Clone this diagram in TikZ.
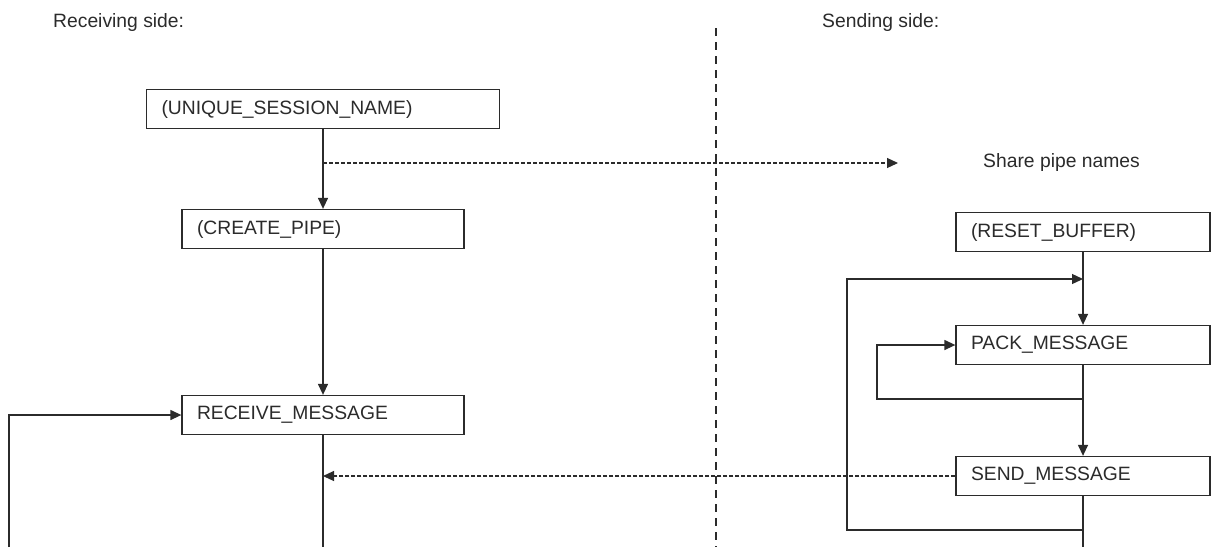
\documentclass[tikz,border=0pt]{standalone}
\usepackage{fontspec}
\setmainfont{Liberation Sans}
\usetikzlibrary{arrows.meta}
\definecolor{ink}{HTML}{2B2B2B}
\begin{document}
\begin{tikzpicture}[x=1pt,y=-1pt,
  every node/.style={font=\fontsize{19.3}{23}\selectfont, text=ink},
  box/.style={draw=ink, line width=1.3pt, rectangle, inner xsep=15pt, inner ysep=0pt, minimum height=39pt, align=left},
  line/.style={draw=ink, line width=1.3pt},
  arr/.style={line, -{Triangle[length=11pt,width=10pt]}},
  dasharr/.style={line, line width=1.1pt, dash pattern=on 4pt off 2pt, -{Triangle[length=11pt,width=10pt]}},
  divider/.style={draw=ink, line width=1.1pt, dash pattern=on 8pt off 6pt},
  label/.style={anchor=west, inner sep=0pt}]
\useasboundingbox (0,0) rectangle (1212,547);
\fill[white] (0,0) rectangle (1212,547);

% headings
\node[label] (recvside) at (53,23) {Receiving side:};
\node[label] (sendside) at (822,23) {Sending side:};

% divider
\coordinate (dtop) at (716,28);
\coordinate (dbot) at (716,547);
\draw[divider] (dtop) -- (dbot);

% receiving side boxes
\node[box, text width=323pt] (uniq) at (323,109) {(UNIQUE\_SESSION\_NAME)};
\node[box, text width=252pt] (create) at (323,229) {(CREATE\_PIPE)};
\node[box, text width=252pt] (recv) at (323,415) {RECEIVE\_MESSAGE};

% sending side boxes
\node[box, text width=224pt] (reset) at (1083,232) {(RESET\_BUFFER)};
\node[box, text width=224pt] (pack) at (1083,345) {PACK\_MESSAGE};
\node[box, text width=224pt] (send) at (1083,476) {SEND\_MESSAGE};

% share pipe names
\node[label] (share) at (983,163) {Share pipe names};
\coordinate (sp) at (323,163);
\coordinate (sharetip) at (898,163);

% receiving connectors
\draw[arr] (uniq) -- (create);
\draw[dasharr] (sp) -- (sharetip);
\draw[arr] (create) -- (recv);
\coordinate (recvend) at (323,547);
\draw[line] (recv) -- (recvend);
\coordinate (lb) at (9,547);
\draw[arr] (lb) |- (recv.west);

% sending connectors
\draw[arr] (reset) -- (pack);
\draw[arr] (pack) -- (send);
\coordinate (pj) at (1083,399);
\coordinate (pl) at (877,399);
\draw[arr] (pj) -- (pl) |- (pack.west);
\coordinate (sendend) at (1083,547);
\draw[line] (send) -- (sendend);
\coordinate (sj) at (1083,530);
\coordinate (bl) at (847,530);
\coordinate (rj) at (1083,279);
\draw[arr] (sj) -- (bl) |- (rj);

% message passing
\draw[dasharr] (send.west) -- (send.west -| recv.south);
\end{tikzpicture}
\end{document}
